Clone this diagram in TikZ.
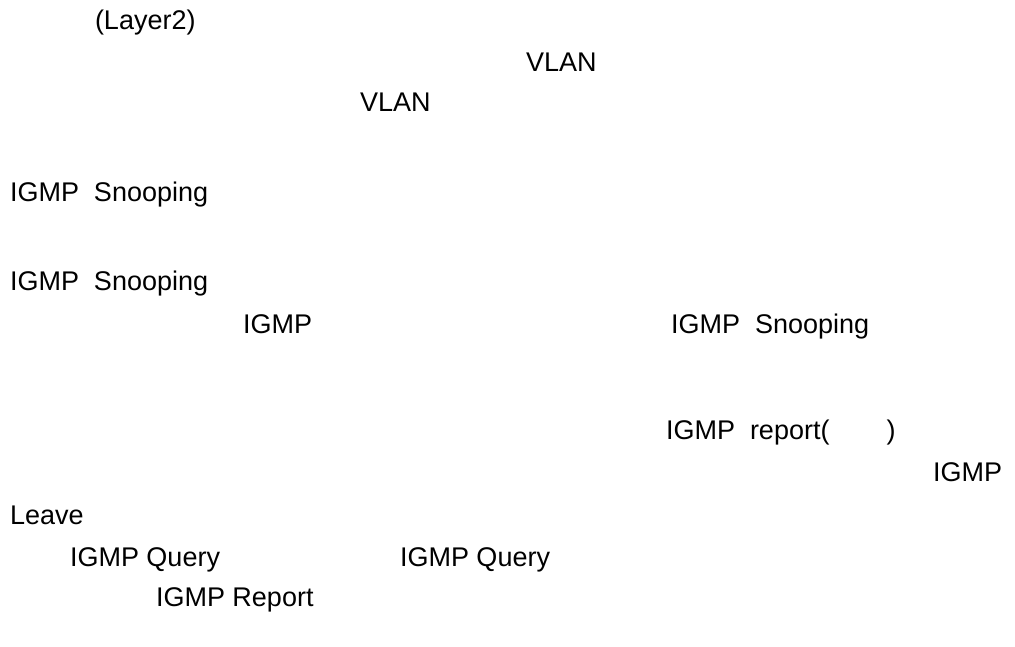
\documentclass[tikz,border=0pt]{standalone}
\usepackage{fontspec}
\setmainfont{Liberation Sans}
\begin{document}
\begin{tikzpicture}[x=1pt,y=-1pt,
  txt/.style={anchor=base west,inner sep=0pt,outer sep=0pt,
    font=\fontsize{27}{32}\selectfont,text=black}]
\useasboundingbox[fill=white] (0,0) rectangle (1015,646);
% text lines, positioned by their baselines
\node[txt] (layer)   at (95,29)   {(Layer2)};
\node[txt] (vlanA)   at (526,71)  {VLAN};
\node[txt] (vlanB)   at (360,111) {VLAN};
\node[txt] (snoopA)  at (10,201)  {IGMP\ \ Snooping};
\node[txt] (snoopB)  at (10,290)  {IGMP\ \ Snooping};
\node[txt] (igmpA)   at (243,333) {IGMP};
\node[txt] (snoopC)  at (671,333) {IGMP\ \ Snooping};
\node[txt] (report)  at (666,439) {IGMP\ \ report(\hspace{57pt})};
\node[txt] (igmpB)   at (933,481) {IGMP};
\node[txt] (leave)   at (10,524)  {Leave};
\node[txt] (queryA)  at (70,566)  {IGMP Query};
\node[txt] (queryB)  at (400,566) {IGMP Query};
\node[txt] (reportB) at (156,606) {IGMP Report};
\end{tikzpicture}
\end{document}
